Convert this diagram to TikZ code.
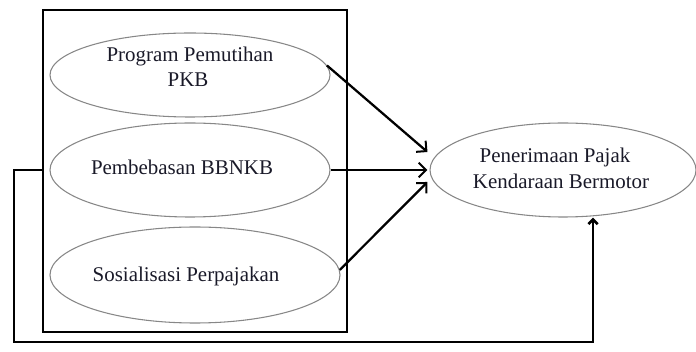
\documentclass[tikz,border=0pt]{standalone}
\usepackage{fontspec}
\setmainfont{Liberation Serif}
\usetikzlibrary{shapes.geometric,arrows.meta,calc}
\definecolor{txt}{RGB}{25,25,40}
\definecolor{ell}{RGB}{135,135,135}
\begin{document}
\begin{tikzpicture}[x=0.75pt,y=-0.75pt,
  oval/.style={ellipse,draw=ell,line width=0.8pt,inner sep=0pt},
  lbl/.style={anchor=base,text=txt,font=\fontsize{15.7pt}{18pt}\selectfont,inner sep=0pt},
  arr/.style={line width=1.7pt,-{Straight Barb[length=5.5pt,width=11pt,line width=1.5pt]}},
  fb/.style={line width=1.1pt,-{Straight Barb[length=3.5pt,width=7pt,line width=2pt]}}]
\useasboundingbox (0,0) rectangle (696,352);
\node[draw,line width=0.9pt,minimum width=228pt,minimum height=241.5pt,inner sep=0pt] (box) at (195,171) {};
\node[oval,minimum width=210pt,minimum height=63pt] (e1) at (190,75) {};
\node[oval,minimum width=210pt,minimum height=70.5pt] (e2) at (190,170) {};
\node[oval,minimum width=217.5pt,minimum height=72pt] (e3) at (195,275) {};
\node[oval,minimum width=199.5pt,minimum height=70.5pt] (r) at (563,170) {};
\node[lbl] (l1a) at (190,62) {Program Pemutihan};
\node[lbl] (l1b) at (188,87) {PKB};
\node[lbl] (l2) at (182,175) {Pembebasan BBNKB};
\node[lbl] (l3) at (186,282) {Sosialisasi Perpajakan};
\node[lbl] (lra) at (555,163) {Penerimaan Pajak};
\node[lbl] (lrb) at (561,189) {Kendaraan Bermotor};
\draw[arr] (e1.4) -- ($(r.west)+(-2,-18)$);
\draw[arr] (e2.east) -- ($(r.west)+(-2,0)$);
\draw[arr] (e3.2) -- ($(r.west)+(-2,12)$);
\coordinate (c1) at (14,342);
\coordinate (c2) at (593,342);
\draw[fb] (box.west |- e2.center) -| (c1) -- (c2) -- (c2 |- r.south);
\end{tikzpicture}
\end{document}
